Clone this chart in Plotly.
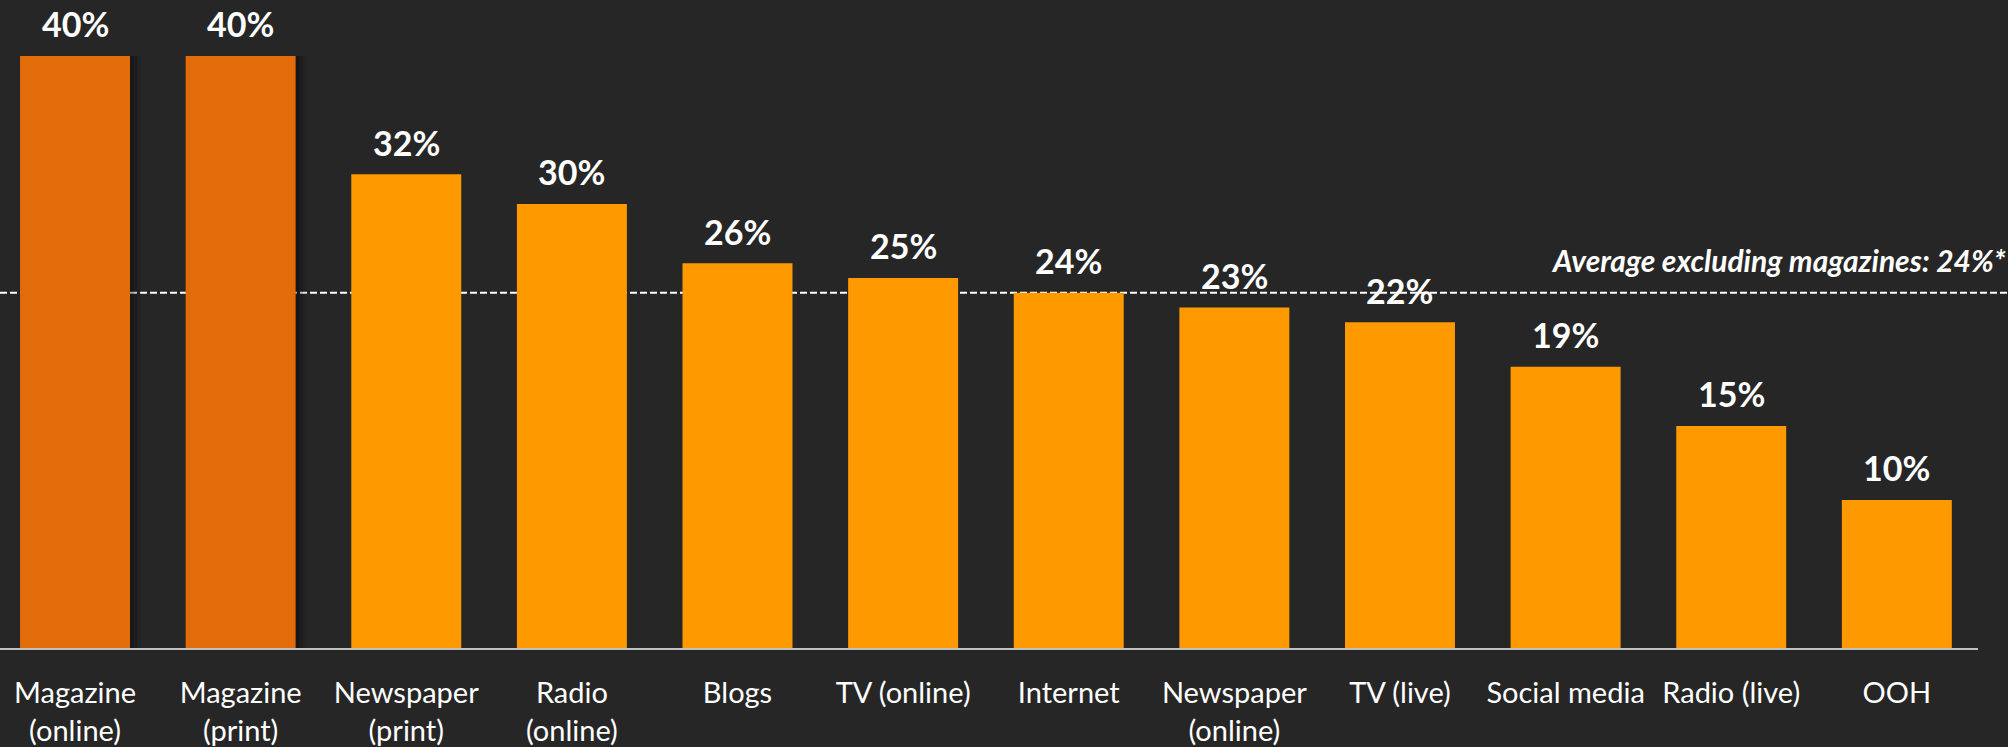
import plotly.graph_objects as go

# Share of respondents by media channel (%)
categories = [
    "Magazine<br>(online)", "Magazine<br>(print)", "Newspaper<br>(print)",
    "Radio<br>(online)", "Blogs", "TV (online)", "Internet",
    "Newspaper<br>(online)", "TV (live)", "Social media", "Radio (live)", "OOH",
]
values = [40, 40, 32, 30, 26, 25, 24, 23, 22, 19, 15, 10]
is_magazine = [True, True, False, False, False, False, False, False, False, False, False, False]
average_excl_magazines = 24
average_label = "Average excluding magazines: 24%*"

BG = "#262626"
DARK_ORANGE = "#E36C0A"
ORANGE = "#FF9900"
FONT = "Lato, 'Open Sans', sans-serif"

BAR_W = 0.664          # bar width in category units
SHADOW_STEP = 0.022    # horizontal offset of each shadow layer

bar_colors = [DARK_ORANGE if m else ORANGE for m in is_magazine]

fig = go.Figure()

# Soft drop shadow to the right of the highlighted (magazine) bars
for i, alpha in enumerate([0.10, 0.14, 0.18]):
    shift = SHADOW_STEP * (3 - i)
    fig.add_trace(go.Bar(
        x=categories,
        y=values,
        width=BAR_W,
        offset=-BAR_W / 2 + shift,
        marker=dict(
            color=[f"rgba(0,0,0,{alpha})" if m else "rgba(0,0,0,0)" for m in is_magazine],
            line=dict(width=0),
        ),
        hoverinfo="skip",
    ))

fig.add_trace(go.Bar(
    x=categories,
    y=values,
    width=BAR_W,
    offset=-BAR_W / 2,
    marker=dict(color=bar_colors, line=dict(width=0)),
    hoverinfo="skip",
))

# Value labels above each bar
for cat, v in zip(categories, values):
    fig.add_annotation(
        x=cat, y=v, xref="x", yref="y",
        text=f"<b>{v}%</b>", showarrow=False,
        yanchor="middle", yshift=32,
        font=dict(family=FONT, size=34, color="white"),
    )

# Dashed average line across the full width
fig.add_shape(
    type="line", xref="paper", yref="y",
    x0=0, x1=1.03, y0=average_excl_magazines, y1=average_excl_magazines,
    line=dict(color="white", width=2, dash="7px,3px"),
    layer="below",
)
fig.add_annotation(
    x=1.015, xref="paper", y=average_excl_magazines, yref="y",
    text=f"<b><i>{average_label}</i></b>", showarrow=False,
    xanchor="right", yanchor="middle", yshift=33,
    font=dict(family=FONT, size=30, color="white"),
)

fig.update_layout(
    width=2008, height=747,
    margin=dict(l=0, r=30, t=0, b=99),
    paper_bgcolor=BG, plot_bgcolor=BG,
    barmode="overlay",
    showlegend=False,
    xaxis=dict(
        type="category",
        range=[-0.453, 11.49],
        showline=True, linecolor="#BFBFBF", linewidth=2,
        showgrid=False, ticks="",
        ticklabelstandoff=18,
        tickfont=dict(family=FONT, size=29, color="white"),
        fixedrange=True,
    ),
    yaxis=dict(
        range=[0, 43.78],
        visible=False, showgrid=False, zeroline=False,
        fixedrange=True,
    ),
)

fig.write_html("out.html")
